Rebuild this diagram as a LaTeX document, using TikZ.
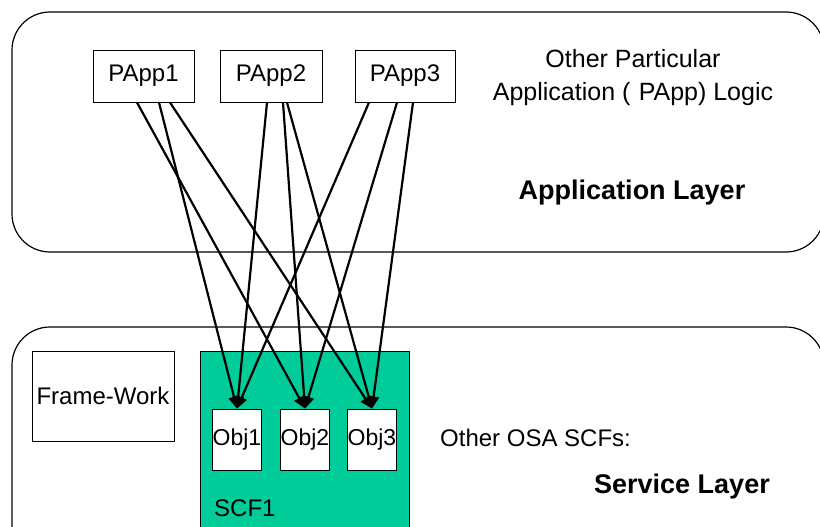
\documentclass[tikz,border=0pt]{standalone}
\usepackage{fontspec}
\setmainfont{Liberation Sans}
\usetikzlibrary{arrows.meta}
\definecolor{scfgreen}{RGB}{0,204,153}
\begin{document}
\begin{tikzpicture}[
  x=1pt, y=-1pt,
  every node/.style={font=\fontsize{24}{33}\selectfont, align=center},
  layer/.style={draw, line width=1.2pt, rounded corners=38pt},
  box/.style={draw, line width=0.9pt, fill=white, inner sep=0pt},
  obj/.style={box, minimum width=48pt, minimum height=61pt, font=\fontsize{23}{26}\selectfont},
  arc/.style={line width=2.2pt, -{Triangle[length=12pt,width=11pt]}},
  title/.style={font=\fontsize{27}{30}\selectfont\bfseries}
]
\useasboundingbox (0,0) rectangle (820,527);
\clip (0,0) rectangle (820,527);
\draw[layer] (12,12) rectangle (824,252);
\draw[layer] (12,327) rectangle (824,570);
\node[box, minimum width=101pt, minimum height=52pt] (P1) at (143.5,76) {PApp1};
\node[box, minimum width=102pt, minimum height=52pt] (P2) at (271,76) {PApp2};
\node[box, minimum width=100pt, minimum height=52pt] (P3) at (405,76) {PApp3};
\node[font=\fontsize{25}{33}\selectfont] (Logic) at (633,78) {Other Particular\\Application (\,\,PApp) Logic};
\node[title] (AL) at (632,193) {Application Layer};
\node[box, minimum width=142pt, minimum height=90pt] (FW) at (103,396) {Frame-Work};
\draw[fill=scfgreen, line width=0.9pt] (200,351) rectangle (409,560);
\node[anchor=west, inner sep=0pt] (SCF) at (214,508) {SCF1};
\node[obj] (O1) at (237,439.5) {Obj1};
\node[obj] (O2) at (305,439.5) {Obj2};
\node[obj] (O3) at (372,439.5) {Obj3};
\node[anchor=west, inner sep=0pt] (OSA) at (440,438) {Other OSA SCFs:};
\node[title] (SL) at (682,487) {Service Layer};
\foreach \s/\dx/\t in {P1/-6.5/O2, P1/15.5/O1, P1/26.5/O3,
                       P2/-4/O1, P2/12/O2, P2/16/O3,
                       P3/-36/O1, P3/-8/O2, P3/8/O3}
  \draw[arc] ([xshift=\dx pt]\s.south) -- (\t.north);
\end{tikzpicture}
\end{document}
